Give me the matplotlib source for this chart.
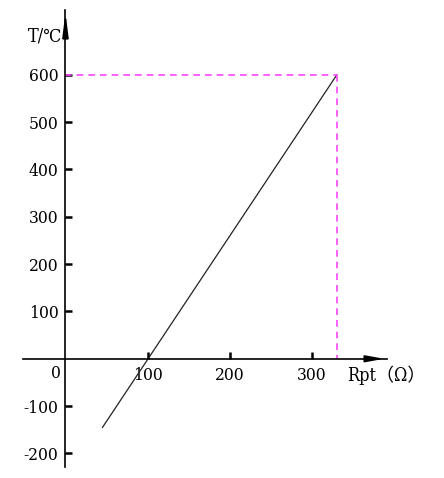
import matplotlib
matplotlib.use("Agg")
from matplotlib import pyplot as plt

# Rpt (ohm) vs T (degC)
r_line = [45, 330]
t_line = [-145, 600]
r_mark = 330
t_mark = 600
x_ticks = [100, 200, 300]
y_ticks = [-200, -100, 100, 200, 300, 400, 500, 600]

plt.rcParams['font.family'] = ['DejaVu Serif', 'Noto Sans CJK SC', 'DejaVu Sans']
plt.rcParams['font.stretch'] = 'condensed'
plt.rcParams['axes.unicode_minus'] = False

W, H = 444, 478
fig = plt.figure(figsize=(W / 100, H / 100), dpi=100)

# axes box in pixels: x 22.7..387, y 10..466.7 (top-down)
left, right, top, bottom = 22.7, 387.0, 10.0, 466.7
ax = fig.add_axes([left / W, 1 - bottom / H, (right - left) / W, (bottom - top) / H])
ax.set_xlim(-52, 391)
ax.set_ylim(-228, 737)

for s in ["top", "right"]:
    ax.spines[s].set_visible(False)
ax.spines["left"].set_position(("data", 0))
ax.spines["bottom"].set_position(("data", 0))
ax.spines["left"].set_linewidth(1.2)
ax.spines["bottom"].set_linewidth(1.2)

ax.set_xticks(x_ticks)
ax.set_yticks(y_ticks)
ax.tick_params(axis="both", direction="in", length=5, width=1.8, labelsize=12.5)
ax.tick_params(axis="y", pad=5)
ax.tick_params(axis="x", pad=6)

ax.plot(r_line, t_line, color="#222222", linewidth=0.9)
ax.plot([0, r_mark], [t_mark, t_mark], color="#ff44ff", linestyle=(0, (4, 3)), linewidth=1.2)
ax.plot([r_mark, r_mark], [t_mark, 0], color="#ff44ff", linestyle=(0, (4, 3)), linewidth=1.2)

# axis arrows
ax.annotate("", xy=(391, 0), xytext=(365, 0),
            arrowprops=dict(arrowstyle="-|>,head_length=1.1,head_width=0.2",
                            color="black", lw=1.2), annotation_clip=False)
ax.annotate("", xy=(0, 737), xytext=(0, 690),
            arrowprops=dict(arrowstyle="-|>,head_length=1.4,head_width=0.18",
                            color="black", lw=1.2), annotation_clip=False)

ax.text(-11, -14, "0", fontsize=12.5, ha="center", va="top")
ax.text(-4, 680, "T/℃", fontsize=13, ha="right", va="center")
ax.text(343, -14, "Rpt（Ω）", fontsize=13, ha="left", va="top")

fig.savefig("out.png", dpi=100)
